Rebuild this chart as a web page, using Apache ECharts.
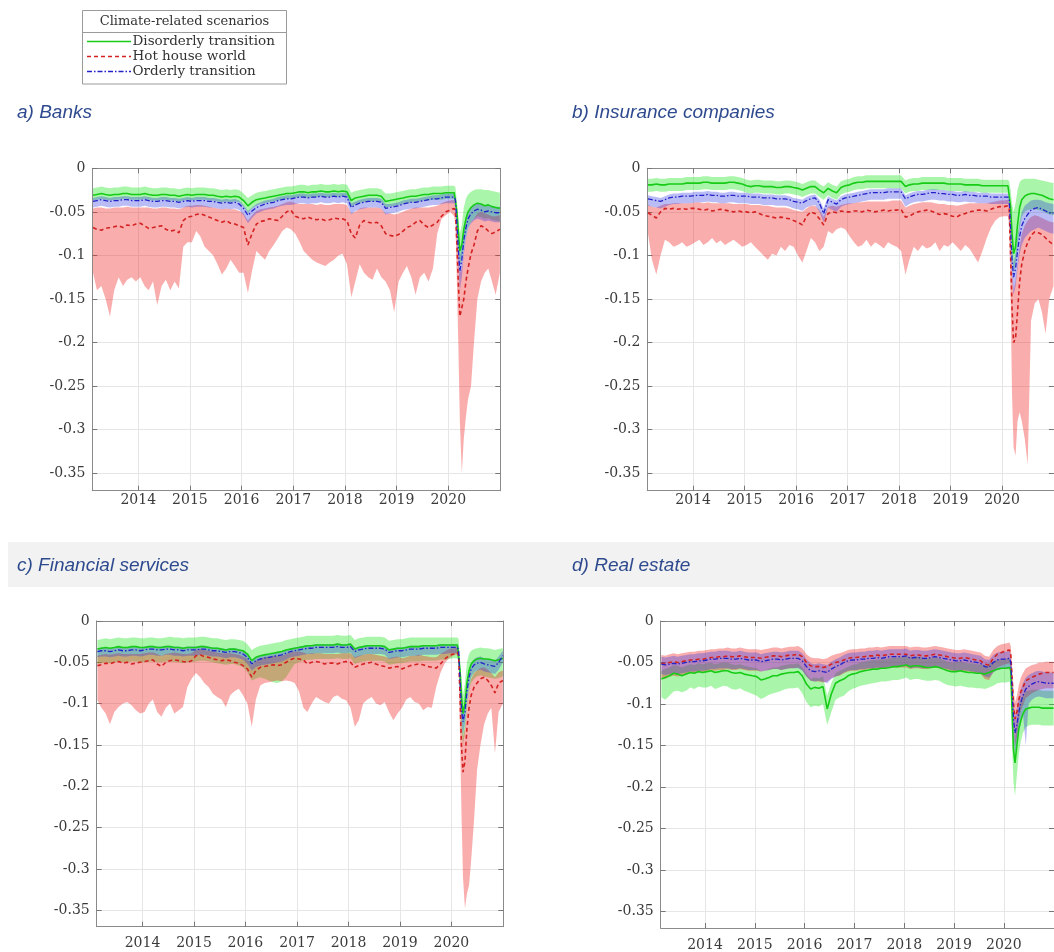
<!DOCTYPE html>
<html>
<head>
<meta charset="utf-8">
<script src="https://cdn.jsdelivr.net/npm/echarts@6/dist/echarts.min.js"></script>
<style>
  html, body { margin: 0; padding: 0; background: #fff; overflow: hidden; }
  #chart { width: 1054px; height: 952px; }
</style>
</head>
<body>
<div id="chart"></div>
<script>
// ---- Time stamps: monthly to end-2019, finer steps through 2020 ----
const DATES = [];
for (let y = 2013; y <= 2019; y++) {
  for (let m = (y === 2013 ? 2 : 1); m <= 12; m++) DATES.push(y + '-' + String(m).padStart(2, '0') + '-15');
}
DATES.push('2020-01-15','2020-02-12','2020-02-21','2020-03-02','2020-03-12','2020-03-23','2020-04-06',
  '2020-04-20','2020-05-05','2020-05-20','2020-06-10','2020-07-01','2020-07-25','2020-08-20',
  '2020-09-15','2020-10-10','2020-11-05','2020-12-01','2020-12-31');

const YEAR_TICKS = ['2014','2015','2016','2017','2018','2019','2020'];
const Y_TICKS = [0, -0.05, -0.1, -0.15, -0.2, -0.25, -0.3, -0.35];
const SCENARIOS = ['Disorderly transition', 'Hot house world', 'Orderly transition'];
const LEGEND_TITLE = 'Climate-related scenarios';
const PANEL_TITLES = ['a) Banks', 'b) Insurance companies', 'c) Financial services', 'd) Real estate'];

// ---- a) Banks ----
const A_G = [
 -0.031,-0.030,-0.029,-0.030,-0.031,-0.030,-0.030,-0.029,-0.029,-0.030,-0.030,
 -0.030,-0.029,-0.030,-0.031,-0.031,-0.030,-0.030,-0.031,-0.031,-0.032,-0.031,-0.030,
 -0.031,-0.030,-0.030,-0.030,-0.031,-0.031,-0.032,-0.033,-0.032,-0.033,-0.032,-0.033,
 -0.037,-0.043,-0.039,-0.036,-0.035,-0.034,-0.033,-0.032,-0.031,-0.030,-0.029,-0.029,
 -0.028,-0.027,-0.027,-0.028,-0.027,-0.027,-0.026,-0.027,-0.027,-0.026,-0.027,-0.026,
 -0.027,-0.037,-0.034,-0.033,-0.032,-0.031,-0.031,-0.031,-0.032,-0.038,-0.037,-0.036,
 -0.035,-0.034,-0.033,-0.032,-0.032,-0.031,-0.030,-0.030,-0.029,-0.029,-0.029,-0.028,
 -0.028,-0.028,-0.030,-0.050,-0.072,-0.095,-0.088,-0.070,-0.058,-0.050,-0.045,-0.042,-0.040,-0.041,-0.043,-0.042,-0.044,-0.045,-0.046];
const A_GU = [
 -0.023,-0.022,-0.021,-0.022,-0.023,-0.022,-0.022,-0.021,-0.021,-0.022,-0.022,
 -0.022,-0.021,-0.022,-0.023,-0.023,-0.022,-0.022,-0.023,-0.023,-0.024,-0.023,-0.022,
 -0.023,-0.022,-0.022,-0.022,-0.023,-0.023,-0.024,-0.025,-0.024,-0.025,-0.024,-0.025,
 -0.029,-0.034,-0.031,-0.028,-0.027,-0.026,-0.025,-0.024,-0.023,-0.022,-0.021,-0.021,
 -0.020,-0.019,-0.019,-0.020,-0.019,-0.019,-0.018,-0.019,-0.019,-0.018,-0.019,-0.018,
 -0.019,-0.028,-0.026,-0.025,-0.024,-0.023,-0.023,-0.023,-0.024,-0.029,-0.029,-0.028,
 -0.027,-0.026,-0.025,-0.024,-0.024,-0.023,-0.022,-0.022,-0.021,-0.021,-0.021,-0.020,
 -0.020,-0.020,-0.022,-0.038,-0.055,-0.075,-0.065,-0.045,-0.035,-0.030,-0.027,-0.025,-0.024,-0.024,-0.025,-0.025,-0.026,-0.027,-0.028];
const A_GL = [
 -0.037,-0.036,-0.035,-0.036,-0.037,-0.036,-0.036,-0.035,-0.035,-0.036,-0.036,
 -0.036,-0.035,-0.036,-0.037,-0.037,-0.036,-0.036,-0.037,-0.037,-0.038,-0.037,-0.036,
 -0.037,-0.036,-0.036,-0.036,-0.037,-0.037,-0.038,-0.039,-0.038,-0.039,-0.038,-0.039,
 -0.044,-0.051,-0.046,-0.043,-0.041,-0.040,-0.039,-0.038,-0.037,-0.036,-0.035,-0.035,
 -0.034,-0.033,-0.033,-0.034,-0.033,-0.033,-0.032,-0.033,-0.033,-0.032,-0.033,-0.032,
 -0.033,-0.044,-0.041,-0.040,-0.039,-0.038,-0.038,-0.038,-0.039,-0.045,-0.044,-0.043,
 -0.042,-0.041,-0.040,-0.039,-0.039,-0.038,-0.037,-0.037,-0.036,-0.036,-0.036,-0.035,
 -0.035,-0.035,-0.038,-0.062,-0.090,-0.112,-0.105,-0.090,-0.078,-0.068,-0.062,-0.058,-0.055,-0.056,-0.058,-0.057,-0.059,-0.060,-0.061];
const A_R = [
 -0.068,-0.070,-0.071,-0.069,-0.068,-0.067,-0.066,-0.068,-0.065,-0.066,-0.064,
 -0.063,-0.066,-0.069,-0.068,-0.067,-0.066,-0.070,-0.072,-0.071,-0.074,-0.060,-0.056,
 -0.055,-0.053,-0.052,-0.054,-0.056,-0.058,-0.060,-0.062,-0.060,-0.063,-0.064,-0.066,
 -0.068,-0.088,-0.075,-0.064,-0.061,-0.060,-0.058,-0.059,-0.060,-0.055,-0.050,-0.048,
 -0.055,-0.057,-0.058,-0.056,-0.058,-0.059,-0.058,-0.060,-0.059,-0.057,-0.058,-0.058,
 -0.060,-0.075,-0.080,-0.065,-0.060,-0.062,-0.063,-0.062,-0.066,-0.075,-0.077,-0.078,
 -0.076,-0.072,-0.068,-0.066,-0.062,-0.060,-0.065,-0.068,-0.065,-0.062,-0.055,-0.050,
 -0.048,-0.046,-0.050,-0.085,-0.130,-0.170,-0.168,-0.150,-0.130,-0.115,-0.098,-0.088,-0.072,-0.066,-0.068,-0.072,-0.075,-0.073,-0.070];
const A_RU = [
 -0.046,-0.045,-0.045,-0.046,-0.046,-0.045,-0.045,-0.045,-0.044,-0.045,-0.045,
 -0.045,-0.045,-0.045,-0.046,-0.046,-0.045,-0.045,-0.046,-0.046,-0.047,-0.045,-0.043,
 -0.043,-0.042,-0.042,-0.043,-0.044,-0.045,-0.046,-0.047,-0.046,-0.047,-0.047,-0.049,
 -0.052,-0.060,-0.054,-0.049,-0.047,-0.046,-0.045,-0.044,-0.043,-0.041,-0.039,-0.038,
 -0.040,-0.041,-0.041,-0.041,-0.041,-0.042,-0.041,-0.042,-0.042,-0.041,-0.041,-0.041,
 -0.042,-0.052,-0.050,-0.046,-0.045,-0.045,-0.045,-0.045,-0.046,-0.052,-0.052,-0.053,
 -0.052,-0.050,-0.048,-0.046,-0.045,-0.045,-0.045,-0.045,-0.044,-0.043,-0.040,-0.038,
 -0.037,-0.036,-0.040,-0.065,-0.095,-0.120,-0.115,-0.095,-0.080,-0.070,-0.062,-0.058,-0.052,-0.050,-0.052,-0.053,-0.055,-0.055,-0.054];
const A_RL = [
 -0.120,-0.140,-0.135,-0.150,-0.170,-0.140,-0.125,-0.135,-0.128,-0.125,-0.130,
 -0.125,-0.135,-0.140,-0.130,-0.157,-0.135,-0.128,-0.140,-0.130,-0.138,-0.090,-0.085,
 -0.085,-0.072,-0.078,-0.090,-0.095,-0.100,-0.110,-0.122,-0.115,-0.105,-0.112,-0.120,
 -0.120,-0.143,-0.118,-0.095,-0.100,-0.105,-0.095,-0.088,-0.080,-0.072,-0.068,-0.070,
 -0.075,-0.085,-0.095,-0.100,-0.105,-0.108,-0.110,-0.112,-0.108,-0.105,-0.100,-0.098,
 -0.110,-0.148,-0.130,-0.110,-0.120,-0.125,-0.128,-0.115,-0.125,-0.130,-0.140,-0.165,
 -0.130,-0.120,-0.112,-0.125,-0.145,-0.125,-0.120,-0.130,-0.115,-0.075,-0.058,-0.054,
 -0.050,-0.055,-0.065,-0.130,-0.200,-0.290,-0.350,-0.310,-0.285,-0.265,-0.250,-0.200,-0.150,-0.130,-0.120,-0.115,-0.130,-0.145,-0.120];
const A_B = [
 -0.038,-0.037,-0.036,-0.037,-0.038,-0.037,-0.037,-0.036,-0.036,-0.037,-0.037,
 -0.037,-0.036,-0.037,-0.038,-0.038,-0.037,-0.037,-0.038,-0.038,-0.039,-0.038,-0.037,
 -0.038,-0.037,-0.037,-0.037,-0.038,-0.038,-0.039,-0.040,-0.039,-0.040,-0.039,-0.041,
 -0.046,-0.054,-0.049,-0.045,-0.043,-0.041,-0.040,-0.039,-0.037,-0.036,-0.035,-0.035,
 -0.034,-0.033,-0.033,-0.034,-0.033,-0.033,-0.032,-0.033,-0.033,-0.032,-0.033,-0.032,
 -0.033,-0.045,-0.042,-0.040,-0.039,-0.038,-0.038,-0.038,-0.039,-0.046,-0.045,-0.044,
 -0.043,-0.041,-0.040,-0.039,-0.039,-0.038,-0.037,-0.036,-0.035,-0.035,-0.034,-0.033,
 -0.033,-0.033,-0.036,-0.062,-0.092,-0.118,-0.105,-0.082,-0.068,-0.058,-0.052,-0.049,-0.047,-0.048,-0.050,-0.049,-0.050,-0.051,-0.051];
const A_BU = [
 -0.034,-0.033,-0.032,-0.033,-0.034,-0.033,-0.033,-0.032,-0.032,-0.033,-0.033,
 -0.033,-0.032,-0.033,-0.034,-0.034,-0.033,-0.033,-0.034,-0.034,-0.035,-0.034,-0.033,
 -0.034,-0.033,-0.033,-0.033,-0.034,-0.034,-0.035,-0.036,-0.035,-0.036,-0.035,-0.037,
 -0.042,-0.049,-0.045,-0.041,-0.039,-0.037,-0.036,-0.035,-0.033,-0.032,-0.031,-0.031,
 -0.030,-0.029,-0.029,-0.030,-0.029,-0.029,-0.028,-0.029,-0.029,-0.028,-0.029,-0.028,
 -0.029,-0.040,-0.038,-0.036,-0.035,-0.034,-0.034,-0.034,-0.035,-0.041,-0.041,-0.040,
 -0.039,-0.037,-0.036,-0.035,-0.035,-0.034,-0.033,-0.032,-0.031,-0.031,-0.030,-0.029,
 -0.029,-0.029,-0.032,-0.054,-0.080,-0.100,-0.090,-0.070,-0.058,-0.050,-0.045,-0.042,-0.040,-0.041,-0.043,-0.042,-0.043,-0.044,-0.044];
const A_BL = [
 -0.045,-0.044,-0.043,-0.044,-0.045,-0.044,-0.044,-0.043,-0.043,-0.044,-0.044,
 -0.044,-0.043,-0.044,-0.045,-0.045,-0.044,-0.044,-0.045,-0.045,-0.046,-0.045,-0.044,
 -0.045,-0.044,-0.044,-0.044,-0.045,-0.045,-0.046,-0.047,-0.046,-0.047,-0.046,-0.048,
 -0.054,-0.063,-0.057,-0.052,-0.050,-0.048,-0.047,-0.046,-0.044,-0.043,-0.042,-0.042,
 -0.041,-0.040,-0.040,-0.041,-0.040,-0.040,-0.039,-0.040,-0.040,-0.039,-0.040,-0.039,
 -0.040,-0.053,-0.049,-0.047,-0.046,-0.045,-0.045,-0.045,-0.046,-0.053,-0.052,-0.051,
 -0.050,-0.048,-0.047,-0.046,-0.046,-0.045,-0.044,-0.043,-0.042,-0.042,-0.041,-0.040,
 -0.040,-0.040,-0.044,-0.075,-0.110,-0.140,-0.125,-0.098,-0.082,-0.070,-0.063,-0.060,-0.058,-0.059,-0.061,-0.060,-0.061,-0.062,-0.062];

// ---- b) Insurance companies ----
const B_G = [
 -0.019,-0.019,-0.018,-0.019,-0.019,-0.018,-0.018,-0.018,-0.018,-0.017,-0.017,
 -0.017,-0.017,-0.016,-0.016,-0.017,-0.017,-0.017,-0.017,-0.016,-0.016,-0.017,-0.018,
 -0.020,-0.021,-0.020,-0.020,-0.021,-0.021,-0.021,-0.022,-0.022,-0.021,-0.021,-0.022,
 -0.023,-0.025,-0.023,-0.021,-0.021,-0.025,-0.028,-0.023,-0.026,-0.028,-0.022,-0.020,
 -0.019,-0.017,-0.016,-0.016,-0.015,-0.015,-0.015,-0.015,-0.015,-0.015,-0.015,-0.015,
 -0.015,-0.021,-0.019,-0.018,-0.018,-0.017,-0.017,-0.017,-0.017,-0.017,-0.017,-0.018,
 -0.018,-0.018,-0.018,-0.019,-0.019,-0.019,-0.019,-0.020,-0.020,-0.020,-0.020,-0.020,
 -0.020,-0.020,-0.022,-0.045,-0.075,-0.098,-0.090,-0.065,-0.045,-0.036,-0.032,-0.030,-0.029,-0.029,-0.030,-0.031,-0.033,-0.035,-0.036];
const B_GU = [
 -0.012,-0.012,-0.011,-0.012,-0.012,-0.011,-0.011,-0.011,-0.011,-0.010,-0.010,
 -0.010,-0.010,-0.009,-0.009,-0.010,-0.010,-0.010,-0.010,-0.009,-0.009,-0.010,-0.011,
 -0.013,-0.014,-0.013,-0.013,-0.014,-0.014,-0.014,-0.015,-0.015,-0.014,-0.014,-0.015,
 -0.016,-0.018,-0.016,-0.014,-0.014,-0.018,-0.021,-0.016,-0.019,-0.021,-0.015,-0.013,
 -0.012,-0.010,-0.009,-0.009,-0.008,-0.008,-0.008,-0.008,-0.008,-0.008,-0.008,-0.008,
 -0.008,-0.014,-0.012,-0.011,-0.011,-0.010,-0.010,-0.010,-0.010,-0.010,-0.010,-0.011,
 -0.011,-0.011,-0.011,-0.012,-0.012,-0.012,-0.012,-0.013,-0.013,-0.013,-0.013,-0.013,
 -0.013,-0.013,-0.015,-0.025,-0.040,-0.050,-0.040,-0.025,-0.016,-0.013,-0.012,-0.012,-0.012,-0.012,-0.013,-0.014,-0.015,-0.016,-0.017];
const B_GL = [
 -0.027,-0.027,-0.026,-0.027,-0.027,-0.026,-0.026,-0.026,-0.026,-0.025,-0.025,
 -0.025,-0.025,-0.024,-0.024,-0.025,-0.025,-0.025,-0.025,-0.024,-0.024,-0.025,-0.026,
 -0.028,-0.029,-0.028,-0.028,-0.029,-0.029,-0.029,-0.030,-0.030,-0.029,-0.029,-0.030,
 -0.031,-0.033,-0.031,-0.029,-0.029,-0.033,-0.036,-0.031,-0.034,-0.036,-0.030,-0.028,
 -0.027,-0.025,-0.024,-0.024,-0.023,-0.023,-0.023,-0.023,-0.023,-0.023,-0.023,-0.023,
 -0.023,-0.029,-0.027,-0.026,-0.026,-0.025,-0.025,-0.025,-0.025,-0.025,-0.025,-0.026,
 -0.026,-0.026,-0.026,-0.027,-0.027,-0.027,-0.027,-0.028,-0.028,-0.028,-0.028,-0.028,
 -0.028,-0.028,-0.030,-0.062,-0.100,-0.120,-0.110,-0.090,-0.068,-0.056,-0.050,-0.048,-0.047,-0.047,-0.048,-0.049,-0.051,-0.053,-0.054];
const B_R = [
 -0.051,-0.054,-0.057,-0.050,-0.046,-0.047,-0.046,-0.047,-0.046,-0.047,-0.046,
 -0.046,-0.047,-0.048,-0.047,-0.049,-0.048,-0.047,-0.048,-0.049,-0.050,-0.049,-0.050,
 -0.050,-0.051,-0.050,-0.052,-0.054,-0.055,-0.056,-0.057,-0.056,-0.057,-0.058,-0.060,
 -0.062,-0.065,-0.055,-0.050,-0.052,-0.058,-0.065,-0.052,-0.050,-0.051,-0.049,-0.050,
 -0.050,-0.049,-0.049,-0.050,-0.048,-0.049,-0.050,-0.049,-0.048,-0.049,-0.048,-0.048,
 -0.047,-0.056,-0.055,-0.052,-0.050,-0.049,-0.048,-0.049,-0.051,-0.053,-0.052,-0.053,
 -0.055,-0.056,-0.053,-0.052,-0.050,-0.049,-0.048,-0.048,-0.049,-0.047,-0.045,-0.044,
 -0.044,-0.043,-0.047,-0.100,-0.160,-0.200,-0.195,-0.165,-0.130,-0.110,-0.095,-0.085,-0.077,-0.073,-0.074,-0.076,-0.080,-0.084,-0.088];
const B_RU = [
 -0.042,-0.044,-0.045,-0.043,-0.041,-0.041,-0.040,-0.040,-0.040,-0.040,-0.040,
 -0.039,-0.039,-0.040,-0.039,-0.040,-0.040,-0.040,-0.040,-0.040,-0.041,-0.041,-0.041,
 -0.041,-0.042,-0.042,-0.042,-0.043,-0.043,-0.044,-0.045,-0.045,-0.045,-0.046,-0.048,
 -0.049,-0.050,-0.046,-0.043,-0.043,-0.048,-0.056,-0.044,-0.043,-0.044,-0.042,-0.041,
 -0.040,-0.040,-0.039,-0.039,-0.038,-0.038,-0.038,-0.038,-0.038,-0.038,-0.037,-0.037,
 -0.037,-0.045,-0.043,-0.041,-0.040,-0.039,-0.039,-0.039,-0.040,-0.041,-0.041,-0.042,
 -0.042,-0.043,-0.042,-0.041,-0.040,-0.040,-0.040,-0.040,-0.040,-0.039,-0.038,-0.037,
 -0.037,-0.036,-0.040,-0.075,-0.115,-0.140,-0.130,-0.110,-0.090,-0.075,-0.066,-0.060,-0.056,-0.054,-0.055,-0.057,-0.059,-0.061,-0.062];
const B_RL = [
 -0.075,-0.105,-0.122,-0.100,-0.082,-0.085,-0.090,-0.088,-0.085,-0.090,-0.088,
 -0.085,-0.082,-0.088,-0.085,-0.080,-0.086,-0.083,-0.088,-0.085,-0.082,-0.086,-0.090,
 -0.088,-0.085,-0.090,-0.095,-0.100,-0.105,-0.098,-0.100,-0.090,-0.095,-0.088,-0.090,
 -0.100,-0.108,-0.095,-0.080,-0.085,-0.095,-0.090,-0.072,-0.075,-0.070,-0.068,-0.070,
 -0.078,-0.085,-0.090,-0.088,-0.082,-0.090,-0.085,-0.088,-0.092,-0.085,-0.088,-0.090,
 -0.095,-0.122,-0.105,-0.090,-0.095,-0.088,-0.092,-0.090,-0.085,-0.095,-0.088,-0.090,
 -0.085,-0.090,-0.095,-0.088,-0.092,-0.100,-0.108,-0.095,-0.080,-0.068,-0.060,-0.056,
 -0.055,-0.055,-0.065,-0.150,-0.260,-0.320,-0.330,-0.290,-0.280,-0.290,-0.310,-0.340,-0.175,-0.155,-0.150,-0.165,-0.190,-0.150,-0.135];
const B_B = [
 -0.035,-0.036,-0.037,-0.038,-0.036,-0.034,-0.033,-0.033,-0.032,-0.032,-0.032,
 -0.031,-0.031,-0.031,-0.030,-0.031,-0.031,-0.032,-0.032,-0.031,-0.031,-0.032,-0.032,
 -0.032,-0.033,-0.033,-0.033,-0.034,-0.034,-0.034,-0.035,-0.035,-0.035,-0.036,-0.038,
 -0.039,-0.040,-0.037,-0.035,-0.034,-0.040,-0.052,-0.036,-0.039,-0.041,-0.036,-0.034,
 -0.033,-0.032,-0.031,-0.030,-0.029,-0.028,-0.028,-0.028,-0.028,-0.027,-0.027,-0.027,
 -0.027,-0.035,-0.033,-0.031,-0.030,-0.030,-0.029,-0.028,-0.028,-0.029,-0.029,-0.030,
 -0.030,-0.031,-0.031,-0.030,-0.031,-0.031,-0.032,-0.032,-0.032,-0.033,-0.033,-0.033,
 -0.033,-0.033,-0.036,-0.070,-0.105,-0.125,-0.115,-0.095,-0.078,-0.066,-0.058,-0.053,-0.048,-0.046,-0.045,-0.047,-0.049,-0.051,-0.052];
const B_BU = [
 -0.031,-0.032,-0.033,-0.034,-0.032,-0.030,-0.029,-0.029,-0.028,-0.028,-0.028,
 -0.027,-0.027,-0.027,-0.026,-0.027,-0.027,-0.028,-0.028,-0.027,-0.027,-0.028,-0.028,
 -0.028,-0.029,-0.029,-0.029,-0.030,-0.030,-0.030,-0.031,-0.031,-0.031,-0.032,-0.034,
 -0.035,-0.036,-0.033,-0.031,-0.030,-0.036,-0.046,-0.032,-0.035,-0.037,-0.032,-0.030,
 -0.029,-0.028,-0.027,-0.026,-0.025,-0.024,-0.024,-0.024,-0.024,-0.023,-0.023,-0.023,
 -0.023,-0.031,-0.029,-0.027,-0.026,-0.026,-0.025,-0.024,-0.024,-0.025,-0.025,-0.026,
 -0.026,-0.027,-0.027,-0.026,-0.027,-0.027,-0.028,-0.028,-0.028,-0.029,-0.029,-0.029,
 -0.029,-0.029,-0.032,-0.058,-0.090,-0.108,-0.098,-0.078,-0.062,-0.050,-0.043,-0.040,-0.037,-0.036,-0.036,-0.037,-0.039,-0.040,-0.041];
const B_BL = [
 -0.043,-0.044,-0.045,-0.046,-0.044,-0.042,-0.041,-0.041,-0.040,-0.040,-0.040,
 -0.039,-0.039,-0.039,-0.038,-0.039,-0.039,-0.040,-0.040,-0.039,-0.039,-0.040,-0.040,
 -0.040,-0.041,-0.041,-0.041,-0.042,-0.042,-0.042,-0.043,-0.043,-0.043,-0.044,-0.046,
 -0.047,-0.049,-0.045,-0.043,-0.042,-0.050,-0.062,-0.045,-0.048,-0.050,-0.044,-0.042,
 -0.041,-0.040,-0.039,-0.038,-0.037,-0.036,-0.036,-0.036,-0.036,-0.035,-0.035,-0.035,
 -0.035,-0.044,-0.041,-0.039,-0.038,-0.038,-0.037,-0.036,-0.036,-0.037,-0.037,-0.038,
 -0.038,-0.039,-0.039,-0.038,-0.039,-0.039,-0.040,-0.040,-0.040,-0.041,-0.041,-0.041,
 -0.041,-0.041,-0.045,-0.085,-0.125,-0.145,-0.135,-0.115,-0.098,-0.088,-0.080,-0.076,-0.072,-0.070,-0.068,-0.070,-0.072,-0.074,-0.075];

// ---- c) Financial services ----
const C_G = [
 -0.034,-0.033,-0.032,-0.033,-0.032,-0.031,-0.032,-0.032,-0.031,-0.031,-0.032,
 -0.032,-0.031,-0.031,-0.032,-0.032,-0.031,-0.031,-0.032,-0.032,-0.033,-0.032,-0.032,
 -0.032,-0.031,-0.031,-0.032,-0.033,-0.033,-0.034,-0.035,-0.034,-0.034,-0.035,-0.036,
 -0.040,-0.048,-0.044,-0.042,-0.041,-0.040,-0.039,-0.038,-0.037,-0.035,-0.034,-0.033,
 -0.032,-0.031,-0.030,-0.030,-0.029,-0.029,-0.029,-0.029,-0.029,-0.028,-0.029,-0.029,
 -0.028,-0.034,-0.032,-0.031,-0.030,-0.030,-0.030,-0.030,-0.031,-0.035,-0.034,-0.033,
 -0.033,-0.032,-0.031,-0.031,-0.031,-0.030,-0.030,-0.030,-0.030,-0.029,-0.029,-0.029,
 -0.029,-0.029,-0.031,-0.060,-0.090,-0.112,-0.100,-0.075,-0.060,-0.052,-0.048,-0.046,-0.045,-0.046,-0.046,-0.047,-0.048,-0.047,-0.045];
const C_GU = [
 -0.023,-0.022,-0.021,-0.022,-0.021,-0.020,-0.021,-0.021,-0.020,-0.020,-0.021,
 -0.021,-0.020,-0.020,-0.021,-0.021,-0.020,-0.019,-0.020,-0.020,-0.021,-0.020,-0.020,
 -0.020,-0.019,-0.019,-0.020,-0.021,-0.021,-0.022,-0.023,-0.022,-0.022,-0.023,-0.024,
 -0.028,-0.035,-0.032,-0.030,-0.029,-0.028,-0.027,-0.026,-0.025,-0.023,-0.022,-0.021,
 -0.020,-0.019,-0.018,-0.018,-0.018,-0.018,-0.018,-0.018,-0.018,-0.017,-0.018,-0.018,
 -0.017,-0.023,-0.021,-0.020,-0.019,-0.019,-0.019,-0.019,-0.020,-0.024,-0.023,-0.022,
 -0.022,-0.021,-0.020,-0.020,-0.020,-0.020,-0.020,-0.020,-0.020,-0.020,-0.020,-0.020,
 -0.020,-0.020,-0.022,-0.045,-0.070,-0.090,-0.075,-0.050,-0.040,-0.036,-0.034,-0.033,-0.032,-0.033,-0.033,-0.034,-0.035,-0.034,-0.033];
const C_GL = [
 -0.052,-0.051,-0.050,-0.051,-0.050,-0.049,-0.050,-0.050,-0.049,-0.049,-0.050,
 -0.050,-0.049,-0.049,-0.050,-0.050,-0.049,-0.049,-0.050,-0.050,-0.051,-0.050,-0.050,
 -0.049,-0.048,-0.048,-0.049,-0.050,-0.051,-0.052,-0.053,-0.052,-0.052,-0.054,-0.056,
 -0.062,-0.072,-0.070,-0.068,-0.070,-0.072,-0.074,-0.075,-0.073,-0.068,-0.060,-0.052,
 -0.050,-0.048,-0.047,-0.047,-0.046,-0.046,-0.046,-0.046,-0.046,-0.045,-0.046,-0.046,
 -0.045,-0.052,-0.050,-0.049,-0.048,-0.048,-0.048,-0.048,-0.049,-0.053,-0.052,-0.051,
 -0.051,-0.050,-0.049,-0.049,-0.049,-0.048,-0.048,-0.048,-0.048,-0.047,-0.047,-0.046,
 -0.045,-0.045,-0.050,-0.090,-0.130,-0.150,-0.135,-0.105,-0.085,-0.075,-0.070,-0.067,-0.066,-0.067,-0.068,-0.069,-0.070,-0.069,-0.067];
const C_R = [
 -0.054,-0.053,-0.051,-0.052,-0.050,-0.049,-0.051,-0.050,-0.052,-0.051,-0.050,
 -0.049,-0.048,-0.047,-0.052,-0.055,-0.050,-0.048,-0.047,-0.048,-0.049,-0.050,-0.048,
 -0.042,-0.041,-0.043,-0.044,-0.046,-0.047,-0.048,-0.047,-0.048,-0.050,-0.051,-0.054,
 -0.058,-0.068,-0.060,-0.056,-0.055,-0.054,-0.053,-0.054,-0.053,-0.050,-0.047,-0.045,
 -0.046,-0.047,-0.052,-0.050,-0.049,-0.050,-0.052,-0.051,-0.051,-0.052,-0.050,-0.049,
 -0.050,-0.056,-0.054,-0.052,-0.051,-0.050,-0.052,-0.054,-0.055,-0.057,-0.056,-0.055,
 -0.058,-0.056,-0.054,-0.053,-0.052,-0.053,-0.055,-0.056,-0.057,-0.052,-0.046,-0.042,
 -0.040,-0.038,-0.042,-0.090,-0.150,-0.183,-0.170,-0.130,-0.105,-0.090,-0.080,-0.075,-0.070,-0.068,-0.072,-0.078,-0.087,-0.075,-0.072];
const C_RU = [
 -0.042,-0.041,-0.040,-0.041,-0.040,-0.039,-0.040,-0.040,-0.040,-0.040,-0.040,
 -0.039,-0.038,-0.038,-0.040,-0.042,-0.040,-0.039,-0.038,-0.039,-0.040,-0.040,-0.039,
 -0.035,-0.034,-0.035,-0.036,-0.037,-0.038,-0.039,-0.039,-0.039,-0.040,-0.041,-0.043,
 -0.046,-0.054,-0.048,-0.045,-0.044,-0.043,-0.042,-0.042,-0.042,-0.040,-0.038,-0.037,
 -0.037,-0.038,-0.040,-0.039,-0.039,-0.039,-0.040,-0.040,-0.040,-0.040,-0.039,-0.039,
 -0.039,-0.044,-0.042,-0.041,-0.040,-0.040,-0.041,-0.042,-0.043,-0.045,-0.044,-0.043,
 -0.045,-0.044,-0.042,-0.042,-0.041,-0.042,-0.043,-0.044,-0.044,-0.040,-0.037,-0.034,
 -0.033,-0.032,-0.035,-0.070,-0.115,-0.140,-0.130,-0.100,-0.082,-0.070,-0.063,-0.060,-0.057,-0.056,-0.059,-0.063,-0.068,-0.062,-0.060];
const C_RL = [
 -0.096,-0.105,-0.112,-0.125,-0.110,-0.104,-0.100,-0.098,-0.102,-0.108,-0.112,
 -0.110,-0.100,-0.095,-0.110,-0.116,-0.105,-0.100,-0.112,-0.108,-0.104,-0.080,-0.070,
 -0.063,-0.068,-0.075,-0.080,-0.088,-0.092,-0.095,-0.104,-0.090,-0.085,-0.082,-0.090,
 -0.100,-0.128,-0.095,-0.078,-0.075,-0.074,-0.073,-0.072,-0.073,-0.072,-0.073,-0.075,
 -0.085,-0.105,-0.110,-0.100,-0.092,-0.095,-0.098,-0.100,-0.092,-0.090,-0.094,-0.096,
 -0.105,-0.128,-0.120,-0.100,-0.095,-0.092,-0.100,-0.102,-0.098,-0.110,-0.120,-0.112,
 -0.105,-0.095,-0.092,-0.098,-0.100,-0.108,-0.104,-0.105,-0.080,-0.063,-0.051,-0.045,
 -0.042,-0.040,-0.050,-0.140,-0.230,-0.310,-0.348,-0.330,-0.320,-0.290,-0.240,-0.180,-0.150,-0.125,-0.112,-0.105,-0.160,-0.110,-0.100];
const C_B = [
 -0.037,-0.036,-0.036,-0.037,-0.036,-0.035,-0.036,-0.036,-0.035,-0.035,-0.036,
 -0.035,-0.034,-0.034,-0.035,-0.035,-0.034,-0.034,-0.035,-0.035,-0.036,-0.035,-0.035,
 -0.035,-0.034,-0.034,-0.035,-0.036,-0.036,-0.037,-0.038,-0.037,-0.037,-0.038,-0.040,
 -0.044,-0.052,-0.048,-0.046,-0.045,-0.044,-0.043,-0.042,-0.041,-0.039,-0.037,-0.036,
 -0.035,-0.034,-0.033,-0.033,-0.032,-0.032,-0.032,-0.032,-0.032,-0.031,-0.032,-0.032,
 -0.031,-0.037,-0.035,-0.034,-0.033,-0.033,-0.033,-0.033,-0.034,-0.038,-0.037,-0.036,
 -0.036,-0.035,-0.034,-0.034,-0.034,-0.033,-0.033,-0.033,-0.033,-0.032,-0.032,-0.032,
 -0.032,-0.032,-0.035,-0.070,-0.105,-0.122,-0.110,-0.085,-0.068,-0.058,-0.053,-0.051,-0.050,-0.052,-0.053,-0.054,-0.055,-0.050,-0.042];
const C_BU = [
 -0.033,-0.032,-0.032,-0.033,-0.032,-0.031,-0.032,-0.032,-0.031,-0.031,-0.032,
 -0.031,-0.030,-0.030,-0.031,-0.031,-0.030,-0.030,-0.031,-0.031,-0.032,-0.031,-0.031,
 -0.031,-0.030,-0.030,-0.031,-0.032,-0.032,-0.033,-0.034,-0.033,-0.033,-0.034,-0.036,
 -0.040,-0.047,-0.044,-0.042,-0.041,-0.040,-0.039,-0.038,-0.037,-0.035,-0.033,-0.032,
 -0.031,-0.030,-0.029,-0.029,-0.028,-0.028,-0.028,-0.028,-0.028,-0.027,-0.028,-0.028,
 -0.027,-0.033,-0.031,-0.030,-0.029,-0.029,-0.029,-0.029,-0.030,-0.034,-0.033,-0.032,
 -0.032,-0.031,-0.030,-0.030,-0.030,-0.029,-0.029,-0.029,-0.029,-0.028,-0.028,-0.028,
 -0.028,-0.028,-0.031,-0.062,-0.095,-0.110,-0.098,-0.075,-0.060,-0.051,-0.046,-0.044,-0.043,-0.045,-0.046,-0.047,-0.048,-0.043,-0.036];
const C_BL = [
 -0.044,-0.043,-0.043,-0.044,-0.043,-0.042,-0.043,-0.043,-0.042,-0.042,-0.043,
 -0.042,-0.041,-0.041,-0.042,-0.042,-0.041,-0.041,-0.042,-0.042,-0.043,-0.042,-0.042,
 -0.042,-0.041,-0.041,-0.042,-0.043,-0.043,-0.044,-0.045,-0.044,-0.044,-0.045,-0.047,
 -0.052,-0.060,-0.056,-0.054,-0.053,-0.052,-0.051,-0.050,-0.049,-0.047,-0.044,-0.043,
 -0.042,-0.041,-0.040,-0.040,-0.039,-0.039,-0.039,-0.039,-0.039,-0.038,-0.039,-0.039,
 -0.038,-0.045,-0.043,-0.041,-0.040,-0.040,-0.040,-0.040,-0.041,-0.046,-0.045,-0.044,
 -0.044,-0.043,-0.042,-0.042,-0.042,-0.041,-0.041,-0.041,-0.041,-0.040,-0.040,-0.039,
 -0.039,-0.039,-0.043,-0.085,-0.120,-0.138,-0.125,-0.098,-0.080,-0.068,-0.062,-0.060,-0.059,-0.061,-0.062,-0.063,-0.064,-0.059,-0.050];

// ---- d) Real estate ----
const D_G = [
 -0.070,-0.068,-0.066,-0.063,-0.064,-0.066,-0.064,-0.062,-0.063,-0.061,-0.062,
 -0.061,-0.060,-0.062,-0.061,-0.060,-0.060,-0.062,-0.063,-0.062,-0.064,-0.065,-0.066,
 -0.067,-0.071,-0.070,-0.068,-0.066,-0.066,-0.064,-0.063,-0.062,-0.062,-0.061,-0.066,
 -0.076,-0.082,-0.080,-0.081,-0.079,-0.106,-0.088,-0.075,-0.072,-0.070,-0.066,-0.064,
 -0.063,-0.061,-0.060,-0.059,-0.058,-0.058,-0.057,-0.057,-0.056,-0.055,-0.055,-0.054,
 -0.053,-0.055,-0.054,-0.054,-0.055,-0.056,-0.056,-0.055,-0.056,-0.058,-0.060,-0.061,
 -0.061,-0.060,-0.061,-0.062,-0.062,-0.063,-0.063,-0.064,-0.062,-0.060,-0.058,-0.057,
 -0.057,-0.056,-0.060,-0.110,-0.155,-0.171,-0.150,-0.130,-0.120,-0.112,-0.106,-0.105,-0.104,-0.104,-0.104,-0.105,-0.105,-0.105,-0.105];
const D_GU = [
 -0.060,-0.058,-0.056,-0.053,-0.054,-0.056,-0.054,-0.052,-0.053,-0.051,-0.052,
 -0.051,-0.050,-0.052,-0.051,-0.050,-0.050,-0.052,-0.053,-0.052,-0.054,-0.055,-0.056,
 -0.057,-0.061,-0.060,-0.058,-0.056,-0.056,-0.054,-0.053,-0.052,-0.052,-0.051,-0.056,
 -0.064,-0.070,-0.068,-0.069,-0.067,-0.090,-0.075,-0.063,-0.060,-0.058,-0.055,-0.053,
 -0.052,-0.050,-0.049,-0.048,-0.047,-0.047,-0.046,-0.046,-0.045,-0.044,-0.044,-0.043,
 -0.042,-0.044,-0.043,-0.043,-0.044,-0.045,-0.045,-0.044,-0.045,-0.047,-0.049,-0.050,
 -0.050,-0.049,-0.050,-0.051,-0.051,-0.052,-0.052,-0.053,-0.051,-0.049,-0.047,-0.046,
 -0.046,-0.045,-0.050,-0.090,-0.130,-0.145,-0.125,-0.105,-0.095,-0.090,-0.085,-0.084,-0.083,-0.083,-0.083,-0.084,-0.084,-0.084,-0.084];
const D_GL = [
 -0.092,-0.095,-0.090,-0.085,-0.084,-0.086,-0.084,-0.080,-0.082,-0.079,-0.080,
 -0.080,-0.078,-0.082,-0.080,-0.078,-0.079,-0.082,-0.083,-0.081,-0.084,-0.086,-0.088,
 -0.090,-0.094,-0.092,-0.089,-0.087,-0.086,-0.084,-0.082,-0.081,-0.081,-0.080,-0.087,
 -0.098,-0.104,-0.102,-0.103,-0.100,-0.125,-0.110,-0.095,-0.092,-0.090,-0.085,-0.082,
 -0.080,-0.078,-0.077,-0.076,-0.075,-0.074,-0.073,-0.073,-0.072,-0.071,-0.071,-0.070,
 -0.068,-0.071,-0.070,-0.070,-0.071,-0.072,-0.072,-0.071,-0.072,-0.075,-0.077,-0.078,
 -0.079,-0.078,-0.079,-0.080,-0.080,-0.081,-0.081,-0.082,-0.080,-0.078,-0.075,-0.074,
 -0.074,-0.073,-0.080,-0.150,-0.195,-0.211,-0.185,-0.160,-0.145,-0.135,-0.128,-0.126,-0.125,-0.125,-0.125,-0.126,-0.126,-0.126,-0.126];
const D_R = [
 -0.051,-0.052,-0.050,-0.049,-0.050,-0.049,-0.048,-0.047,-0.047,-0.046,-0.046,
 -0.045,-0.044,-0.044,-0.043,-0.043,-0.042,-0.043,-0.043,-0.042,-0.043,-0.044,-0.044,
 -0.044,-0.045,-0.044,-0.043,-0.042,-0.042,-0.043,-0.042,-0.041,-0.041,-0.040,-0.043,
 -0.050,-0.054,-0.055,-0.055,-0.056,-0.055,-0.052,-0.050,-0.049,-0.047,-0.045,-0.044,
 -0.044,-0.043,-0.043,-0.042,-0.042,-0.041,-0.042,-0.041,-0.040,-0.040,-0.040,-0.040,
 -0.040,-0.042,-0.041,-0.041,-0.042,-0.042,-0.041,-0.040,-0.041,-0.042,-0.043,-0.044,
 -0.045,-0.045,-0.044,-0.045,-0.046,-0.047,-0.048,-0.052,-0.053,-0.045,-0.040,-0.038,
 -0.036,-0.035,-0.040,-0.070,-0.100,-0.118,-0.110,-0.095,-0.085,-0.080,-0.072,-0.070,-0.068,-0.066,-0.064,-0.063,-0.062,-0.062,-0.062];
const D_RU = [
 -0.041,-0.042,-0.040,-0.039,-0.040,-0.039,-0.038,-0.037,-0.037,-0.036,-0.036,
 -0.035,-0.034,-0.034,-0.033,-0.033,-0.032,-0.033,-0.033,-0.032,-0.033,-0.034,-0.034,
 -0.034,-0.035,-0.034,-0.033,-0.032,-0.032,-0.033,-0.032,-0.031,-0.031,-0.030,-0.033,
 -0.040,-0.044,-0.045,-0.045,-0.046,-0.045,-0.042,-0.040,-0.039,-0.037,-0.035,-0.034,
 -0.034,-0.033,-0.033,-0.032,-0.032,-0.031,-0.032,-0.031,-0.030,-0.030,-0.030,-0.030,
 -0.030,-0.032,-0.031,-0.031,-0.032,-0.032,-0.031,-0.030,-0.031,-0.032,-0.033,-0.034,
 -0.035,-0.035,-0.034,-0.035,-0.036,-0.037,-0.038,-0.042,-0.043,-0.035,-0.030,-0.028,
 -0.027,-0.026,-0.030,-0.055,-0.082,-0.098,-0.090,-0.077,-0.068,-0.063,-0.057,-0.055,-0.053,-0.052,-0.050,-0.050,-0.049,-0.049,-0.049];
const D_RL = [
 -0.068,-0.070,-0.067,-0.066,-0.067,-0.066,-0.065,-0.063,-0.063,-0.062,-0.062,
 -0.061,-0.060,-0.060,-0.059,-0.059,-0.058,-0.059,-0.059,-0.058,-0.059,-0.060,-0.060,
 -0.060,-0.061,-0.060,-0.059,-0.058,-0.058,-0.059,-0.058,-0.057,-0.057,-0.056,-0.059,
 -0.067,-0.072,-0.073,-0.073,-0.074,-0.073,-0.069,-0.067,-0.066,-0.063,-0.061,-0.060,
 -0.060,-0.059,-0.059,-0.058,-0.058,-0.057,-0.058,-0.057,-0.056,-0.056,-0.056,-0.056,
 -0.056,-0.058,-0.057,-0.057,-0.058,-0.058,-0.057,-0.056,-0.057,-0.058,-0.059,-0.060,
 -0.061,-0.061,-0.060,-0.061,-0.062,-0.063,-0.064,-0.070,-0.071,-0.062,-0.056,-0.054,
 -0.052,-0.051,-0.058,-0.095,-0.130,-0.150,-0.140,-0.120,-0.108,-0.102,-0.093,-0.090,-0.087,-0.085,-0.083,-0.082,-0.081,-0.081,-0.081];
const D_B = [
 -0.052,-0.053,-0.052,-0.051,-0.052,-0.051,-0.050,-0.049,-0.049,-0.048,-0.048,
 -0.047,-0.046,-0.046,-0.045,-0.045,-0.045,-0.046,-0.046,-0.045,-0.046,-0.047,-0.047,
 -0.047,-0.049,-0.048,-0.047,-0.046,-0.046,-0.047,-0.046,-0.045,-0.045,-0.045,-0.048,
 -0.055,-0.060,-0.061,-0.060,-0.061,-0.062,-0.058,-0.055,-0.053,-0.050,-0.048,-0.047,
 -0.047,-0.046,-0.046,-0.045,-0.045,-0.044,-0.045,-0.044,-0.043,-0.043,-0.043,-0.043,
 -0.042,-0.045,-0.044,-0.044,-0.045,-0.045,-0.044,-0.043,-0.044,-0.045,-0.046,-0.047,
 -0.048,-0.048,-0.047,-0.048,-0.049,-0.050,-0.051,-0.055,-0.056,-0.050,-0.047,-0.046,
 -0.046,-0.045,-0.050,-0.085,-0.118,-0.135,-0.125,-0.110,-0.098,-0.090,-0.082,-0.079,-0.076,-0.074,-0.073,-0.074,-0.075,-0.075,-0.075];
const D_BU = [
 -0.043,-0.044,-0.043,-0.042,-0.043,-0.042,-0.041,-0.040,-0.040,-0.039,-0.039,
 -0.038,-0.037,-0.037,-0.036,-0.036,-0.036,-0.037,-0.037,-0.036,-0.037,-0.038,-0.038,
 -0.038,-0.040,-0.039,-0.038,-0.037,-0.037,-0.038,-0.037,-0.036,-0.036,-0.036,-0.039,
 -0.046,-0.051,-0.052,-0.051,-0.052,-0.053,-0.049,-0.046,-0.044,-0.041,-0.039,-0.038,
 -0.038,-0.037,-0.037,-0.036,-0.036,-0.035,-0.036,-0.035,-0.034,-0.034,-0.034,-0.034,
 -0.033,-0.036,-0.035,-0.035,-0.036,-0.036,-0.035,-0.034,-0.035,-0.036,-0.037,-0.038,
 -0.039,-0.039,-0.038,-0.039,-0.040,-0.041,-0.042,-0.046,-0.047,-0.041,-0.038,-0.037,
 -0.037,-0.036,-0.040,-0.070,-0.100,-0.115,-0.105,-0.092,-0.082,-0.075,-0.068,-0.065,-0.063,-0.061,-0.060,-0.061,-0.062,-0.062,-0.062];
const D_BL = [
 -0.064,-0.065,-0.064,-0.063,-0.064,-0.063,-0.062,-0.061,-0.061,-0.060,-0.060,
 -0.059,-0.058,-0.058,-0.057,-0.057,-0.057,-0.058,-0.058,-0.057,-0.058,-0.059,-0.059,
 -0.059,-0.061,-0.060,-0.059,-0.058,-0.058,-0.059,-0.058,-0.057,-0.057,-0.057,-0.060,
 -0.067,-0.072,-0.073,-0.072,-0.073,-0.075,-0.070,-0.067,-0.065,-0.062,-0.060,-0.059,
 -0.059,-0.058,-0.058,-0.057,-0.057,-0.056,-0.057,-0.056,-0.055,-0.055,-0.055,-0.055,
 -0.054,-0.057,-0.056,-0.056,-0.057,-0.057,-0.056,-0.055,-0.056,-0.057,-0.058,-0.059,
 -0.060,-0.060,-0.059,-0.060,-0.061,-0.062,-0.063,-0.067,-0.068,-0.062,-0.059,-0.058,
 -0.058,-0.057,-0.062,-0.105,-0.140,-0.160,-0.150,-0.130,-0.118,-0.110,-0.150,-0.100,-0.095,-0.092,-0.091,-0.092,-0.093,-0.093,-0.093];

// ---- Per-panel series groupings (green = disorderly, red = hot house, blue = orderly) ----
const PANEL_DATA = [
  { green: [A_G, A_GU, A_GL], red: [A_R, A_RU, A_RL], blue: [A_B, A_BU, A_BL] },
  { green: [B_G, B_GU, B_GL], red: [B_R, B_RU, B_RL], blue: [B_B, B_BU, B_BL] },
  { green: [C_G, C_GU, C_GL], red: [C_R, C_RU, C_RL], blue: [C_B, C_BU, C_BL] },
  { green: [D_G, D_GU, D_GL], red: [D_R, D_RU, D_RL], blue: [D_B, D_BU, D_BL] }
];

// ---- Layout and styling ----
const GRIDS = [
  { left: 92.3,  top: 168.3, width: 408,   height: 322.4 },
  { left: 647.3, top: 168.3, width: 406.6, height: 322.4 },
  { left: 96.7,  top: 621,   width: 406.6, height: 305.7 },
  { left: 660.7, top: 621,   width: 401.3, height: 307.3 }
];
const X_LABEL_MARGIN = [3, 3, 10, 10];
const TITLE_POS = [[17, 113], [572, 113], [17, 566], [572, 566]];
const STYLE = {
  green: { line: '#16cc16', band: 'rgba(40,230,40,0.40)', width: 1.6, dash: 'solid' },
  red:   { line: '#d42222', band: 'rgba(240,40,40,0.38)', width: 1.6, dash: [4, 3] },
  blue:  { line: '#2222c8', band: 'rgba(50,60,225,0.34)', width: 1.3, dash: [5, 2, 1.5, 2] }
};
const SERIF = '"DejaVu Serif", serif';
const SANS = '"Liberation Sans", Arial, sans-serif';

// the x axis is a plain value axis over UTC timestamps
const T = DATES.map(d => Date.parse(d + 'T00:00:00Z'));
PANEL_DATA.forEach((p, i) => ['green', 'red', 'blue'].forEach(k => p[k].forEach((arr, j) => {
  if (arr.length !== T.length) throw new Error('length mismatch panel ' + i + ' ' + k + ' ' + j + ': ' + arr.length);
})));

const TMIN = Date.UTC(2013, 1, 10);
const TMAX = Date.UTC(2021, 0, 3);
const X_TICKS = YEAR_TICKS.map(y => Date.UTC(+y, 0, 1));

const AXIS_LINE = { show: true, onZero: false, lineStyle: { color: '#8a8a8a', width: 1 } };
const TICK_STYLE = { color: '#777', width: 1 };

const xAxes = [], yAxes = [], series = [];
GRIDS.forEach((g, i) => {
  xAxes.push({
    type: 'value', gridIndex: i, min: TMIN, max: TMAX, position: 'bottom', scale: true,
    axisLine: AXIS_LINE,
    axisTick: { show: true, inside: true, length: 5, customValues: X_TICKS, lineStyle: TICK_STYLE },
    axisLabel: { show: true, customValues: X_TICKS, formatter: v => String(new Date(v).getUTCFullYear()),
      color: '#3a3a3a', fontFamily: SERIF, fontSize: 14, margin: X_LABEL_MARGIN[i], hideOverlap: false },
    splitLine: { show: true, lineStyle: { color: '#e6e6e6', width: 1 } }
  });
  xAxes.push({
    type: 'value', gridIndex: i, min: TMIN, max: TMAX, position: 'top', scale: true,
    axisLine: AXIS_LINE,
    axisTick: { show: true, inside: true, length: 5, customValues: X_TICKS, lineStyle: TICK_STYLE },
    axisLabel: { show: false }, splitLine: { show: false }
  });
  yAxes.push({
    type: 'value', gridIndex: i, min: -0.37, max: 0, position: 'left',
    axisLine: AXIS_LINE,
    axisTick: { show: true, inside: true, length: 5, customValues: Y_TICKS, lineStyle: TICK_STYLE },
    axisLabel: { show: true, customValues: Y_TICKS, formatter: v => (v === 0 ? '0' : String(v)),
      color: '#3a3a3a', fontFamily: SERIF, fontSize: 14, margin: 7 },
    splitLine: { show: true, lineStyle: { color: '#e6e6e6', width: 1 } }
  });
  yAxes.push({
    type: 'value', gridIndex: i, min: -0.37, max: 0, position: 'right',
    axisLine: AXIS_LINE,
    axisTick: { show: true, inside: true, length: 5, customValues: Y_TICKS, lineStyle: TICK_STYLE },
    axisLabel: { show: false }, splitLine: { show: false }
  });

  const p = PANEL_DATA[i];
  // shaded uncertainty bands
  ['green', 'red', 'blue'].forEach(k => {
    const upper = p[k][1], lower = p[k][2];
    series.push({
      type: 'custom', xAxisIndex: 2 * i, yAxisIndex: 2 * i, silent: true, clip: true, z: 1,
      data: [[T[0], upper[0]]],
      renderItem: (params, api) => {
        const pts = [];
        for (let n = 0; n < T.length; n++) pts.push(api.coord([T[n], upper[n]]));
        for (let n = T.length - 1; n >= 0; n--) pts.push(api.coord([T[n], lower[n]]));
        return { type: 'polygon', shape: { points: pts }, style: { fill: STYLE[k].band } };
      }
    });
  });
  // central paths
  ['green', 'red', 'blue'].forEach((k, s) => {
    series.push({
      name: SCENARIOS[s], type: 'line', xAxisIndex: 2 * i, yAxisIndex: 2 * i, silent: true, z: 3,
      showSymbol: false, symbol: 'none',
      data: T.map((t, n) => [t, p[k][0][n]]),
      lineStyle: { color: STYLE[k].line, width: STYLE[k].width, type: STYLE[k].dash }
    });
  });
});

// header strip, panel titles, scenario key
const graphics = [
  { type: 'rect', shape: { x: 8, y: 542, width: 1046, height: 45 }, style: { fill: '#f2f2f2' }, z: -10 }
];
PANEL_TITLES.forEach((t, i) => graphics.push({
  type: 'text', x: TITLE_POS[i][0], y: TITLE_POS[i][1],
  style: { text: t, fill: '#2e4a8e', font: 'italic 19px ' + SANS, align: 'left', verticalAlign: 'middle' }
}));
graphics.push(
  { type: 'rect', shape: { x: 82.5, y: 10.5, width: 204, height: 73.5 }, style: { fill: '#fff', stroke: '#9a9a9a', lineWidth: 1 } },
  { type: 'line', shape: { x1: 82.5, y1: 32.5, x2: 286.5, y2: 32.5 }, style: { stroke: '#9a9a9a', lineWidth: 1 } },
  { type: 'text', x: 184.5, y: 21.5, style: { text: LEGEND_TITLE, fill: '#333', font: '13px ' + SERIF, align: 'center', verticalAlign: 'middle' } }
);
['green', 'red', 'blue'].forEach((k, s) => {
  const y = 41.5 + 15 * s;
  graphics.push(
    { type: 'line', shape: { x1: 87, y1: y, x2: 131, y2: y },
      style: { stroke: STYLE[k].line, lineWidth: 1.3, lineDash: STYLE[k].dash === 'solid' ? null : STYLE[k].dash } },
    { type: 'text', x: 132.5, y: y, style: { text: SCENARIOS[s], fill: '#333', font: '13.5px ' + SERIF, align: 'left', verticalAlign: 'middle' } }
  );
});

const chart = echarts.init(document.getElementById('chart'), null, { renderer: 'canvas' });
chart.setOption({
  animation: false,
  backgroundColor: '#ffffff',
  grid: GRIDS.map(g => Object.assign({ show: false, containLabel: false }, g)),
  xAxis: xAxes,
  yAxis: yAxes,
  series: series,
  graphic: { elements: graphics }
});
</script>
</body>
</html>
